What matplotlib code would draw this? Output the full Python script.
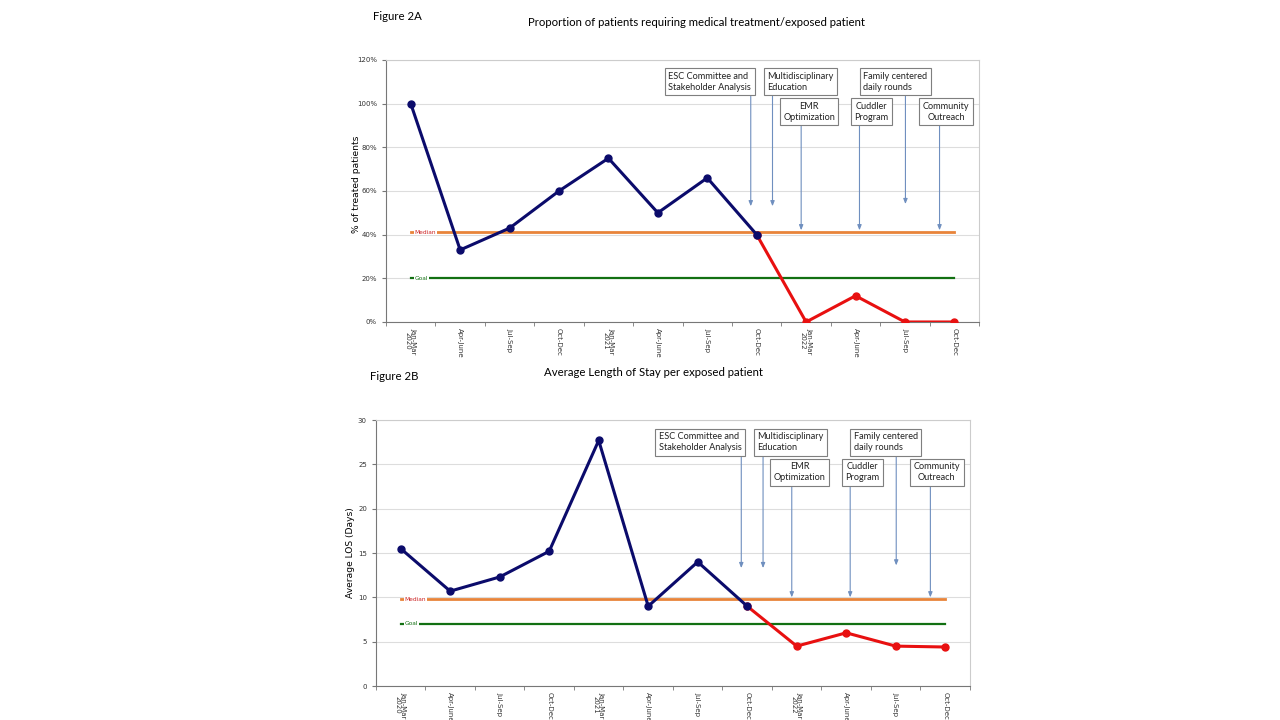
import numpy as np
import matplotlib.pyplot as plt
from matplotlib.ticker import FuncFormatter

# Data
quarters = ['Jan-Mar\n2020', 'Apr-June', 'Jul-Sep', 'Oct-Dec', 'Jan-Mar\n2021', 'Apr-June',
            'Jul-Sep', 'Oct-Dec', 'Jan-Mar\n2022', 'Apr-June', 'Jul-Sep', 'Oct-Dec']
treated_pct = [100, 33, 43, 60, 75, 50, 66, 40, 0, 12, 0, 0]
treated_median = 41.2
treated_goal = 20
los_days = [15.5, 10.7, 12.3, 15.2, 27.7, 9.0, 14.0, 9.0, 4.5, 6.0, 4.5, 4.4]
los_median = 9.8
los_goal = 7
split_idx = 7  # red segment starts here

# interventions: label, alignment, box x, row, arrow x
interventions = ['ESC Committee and\nStakeholder Analysis', 'Multidisciplinary\nEducation',
                 'EMR\nOptimization', 'Cuddler\nProgram', 'Family centered\ndaily rounds',
                 'Community\nOutreach']
box_align = ['left', 'left', 'center', 'center', 'left', 'center']
box_x = [6.05, 7.88, 8.06, 9.32, 9.8, 10.83]
box_row = [0, 0, 1, 1, 0, 1]
arrow_x = [6.88, 7.32, 7.9, 9.08, 10.01, 10.7]
arrow_tip_a = [53, 53, 42, 42, 54, 42]
arrow_tip_b = [13.3, 13.3, 10.0, 10.0, 13.6, 10.0]

NAVY = '#0b0b6b'
RED = '#e81010'
ORANGE = '#e8843a'
GREEN = '#127012'
ARROW = '#6f8fbf'
FONT = 'Lato'

fig = plt.figure(figsize=(12.8, 7.2), dpi=100)
ax1 = fig.add_axes([0.3016, 0.5528, 0.4633, 0.3639])
ax2 = fig.add_axes([0.2937, 0.0472, 0.4641, 0.3694])

x = np.arange(len(quarters))


def draw_panel(ax, vals, median, goal, ylim, yticks, tips, lab_fmt, ylabel, label_xy):
    ax.plot(x[split_idx:], vals[split_idx:], '-o', color=RED, lw=2.2, ms=5, zorder=4)
    ax.plot(x[:split_idx + 1], vals[:split_idx + 1], '-o', color=NAVY, lw=2.2, ms=5, zorder=5)
    ax.plot([0, 11], [median, median], color=ORANGE, lw=2, zorder=3)
    ax.plot([0, 11], [goal, goal], color=GREEN, lw=1.6, zorder=3)
    ax.text(0.3, median, 'Median', fontsize=4.2, color='#cc2222', ha='center', va='center',
            family='DejaVu Sans', zorder=3.5,
            bbox=dict(facecolor='white', edgecolor='none', pad=0.6))
    ax.text(0.22, goal, 'Goal', fontsize=4.2, color=GREEN, ha='center', va='center',
            family='DejaVu Sans', zorder=3.5,
            bbox=dict(facecolor='white', edgecolor='none', pad=0.6))

    ax.set_xlim(-0.5, 11.5)
    ax.set_ylim(*ylim)
    ax.set_yticks(yticks)
    ax.yaxis.set_major_formatter(FuncFormatter(lab_fmt))
    ax.set_xticks(x)
    ax.set_xticklabels(quarters, rotation=-90, fontsize=5, family='DejaVu Sans',
                       color='#333333', linespacing=1.05)
    ax.set_xticks(np.arange(-0.5, 12, 1), minor=True)
    ax.tick_params(axis='x', which='major', length=0, pad=4)
    ax.tick_params(axis='x', which='minor', length=3, color='#777777')
    ax.tick_params(axis='y', labelsize=5, length=3, color='#777777', labelcolor='#333333')
    for t in ax.get_yticklabels():
        t.set_family('DejaVu Sans')
    ax.grid(axis='y', color='#dddddd', lw=0.8)
    ax.set_axisbelow(True)
    for s in ['top', 'right']:
        ax.spines[s].set_color('#cccccc')
    for s in ['left', 'bottom']:
        ax.spines[s].set_color('#777777')
    ax.set_ylabel(ylabel, fontsize=6.6, family='DejaVu Sans')
    ax.yaxis.set_label_coords(*label_xy)

    # intervention boxes + arrows
    for lab, al, bx, row, axx, tip in zip(interventions, box_align, box_x, box_row, arrow_x, tips):
        yc = 0.917 if row == 0 else 0.803
        ybot = 0.862 if row == 0 else 0.748
        ax.text(bx, yc, lab, transform=ax.get_xaxis_transform(), fontsize=6.6, family=FONT,
                ha='center', va='center', multialignment=al, color='#222222', zorder=6,
                linespacing=1.3,
                bbox=dict(boxstyle='square,pad=0.38', facecolor='white', edgecolor='#7f7f7f', lw=0.8))
        ax.annotate('', xy=(axx, tip), xycoords='data', xytext=(axx, ybot),
                    textcoords=ax.get_xaxis_transform(), zorder=5,
                    arrowprops=dict(arrowstyle='-|>,head_length=0.3,head_width=0.12',
                                    color=ARROW, lw=0.8, shrinkA=0, shrinkB=0))


draw_panel(ax1, treated_pct, treated_median, treated_goal, (0, 120), np.arange(0, 121, 20),
           arrow_tip_a, lambda v, p: f'{v:.0f}%', '% of treated patients', (-0.042, 0.525))
draw_panel(ax2, los_days, los_median, los_goal, (0, 30), np.arange(0, 31, 5),
           arrow_tip_b, lambda v, p: f'{v:.0f}', 'Average LOS (Days)', (-0.036, 0.5))

fig.text(373 / 1280, 1 - 16 / 720, 'Figure 2A', fontsize=8.2, family=FONT, va='center')
fig.text(696 / 1280, 1 - 23 / 720, 'Proportion of patients requiring medical treatment/exposed patient',
         fontsize=8.2, family=FONT, ha='center', va='center')
fig.text(370 / 1280, 1 - 377 / 720, 'Figure 2B', fontsize=8.2, family=FONT, va='center')
fig.text(654 / 1280, 1 - 372 / 720, 'Average Length of Stay per exposed patient',
         fontsize=8.2, family=FONT, ha='center', va='center')

fig.savefig('out.png', dpi=100)
